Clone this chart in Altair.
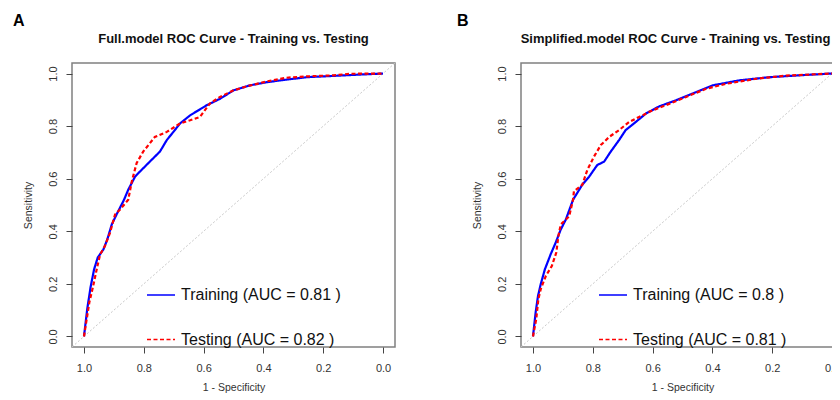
import altair as alt
import pandas as pd

FONT = "Liberation Sans"

# ---------------- data ----------------
X_TICKS = [1.0, 0.8, 0.6, 0.4, 0.2, 0.0]
Y_TICKS = [0.0, 0.2, 0.4, 0.6, 0.8, 1.0]

A_TITLE = "Full.model ROC Curve - Training vs. Testing"
A_TRAIN_LABEL = "Training (AUC = 0.81 )"
A_TEST_LABEL = "Testing (AUC = 0.82 )"
A_train_spec = [1.0, 0.989, 0.978, 0.966, 0.954, 0.935, 0.922, 0.907, 0.891, 0.866, 0.852, 0.829,
                0.813, 0.785, 0.746, 0.723, 0.696, 0.679, 0.645, 0.59, 0.545, 0.50, 0.445, 0.389,
                0.322, 0.255, 0.166, 0.077, 0.0]
A_train_sens = [0.0, 0.105, 0.187, 0.256, 0.30, 0.331, 0.369, 0.426, 0.464, 0.52, 0.558, 0.608,
                0.627, 0.659, 0.703, 0.747, 0.785, 0.81, 0.841, 0.879, 0.904, 0.936, 0.955, 0.967,
                0.977, 0.986, 0.991, 0.996, 1.0]
A_test_spec = [1.0, 0.982, 0.969, 0.955, 0.946, 0.93, 0.913, 0.896, 0.88, 0.852, 0.84, 0.824, 0.802,
               0.763, 0.723, 0.679, 0.645, 0.612, 0.579, 0.545, 0.50, 0.456, 0.389, 0.322, 0.255,
               0.166, 0.11, 0.0]
A_test_sens = [0.0, 0.13, 0.193, 0.268, 0.312, 0.344, 0.394, 0.464, 0.482, 0.52, 0.59, 0.659, 0.703,
               0.759, 0.778, 0.81, 0.822, 0.835, 0.886, 0.911, 0.936, 0.951, 0.970, 0.984, 0.989,
               0.993, 0.999, 1.0]

B_TITLE = "Simplified.model ROC Curve - Training vs. Testing"
B_TRAIN_LABEL = "Training (AUC = 0.8 )"
B_TEST_LABEL = "Testing (AUC = 0.81 )"
B_train_spec = [1.0, 0.991, 0.983, 0.974, 0.96, 0.941, 0.924, 0.907, 0.89, 0.866, 0.835, 0.812,
                0.785, 0.762, 0.74, 0.712, 0.69, 0.656, 0.622, 0.578, 0.522, 0.455, 0.399, 0.31,
                0.209, 0.098, 0.0]
B_train_sens = [0.0, 0.092, 0.155, 0.199, 0.256, 0.312, 0.357, 0.407, 0.445, 0.52, 0.577, 0.608,
                0.652, 0.665, 0.703, 0.747, 0.785, 0.816, 0.848, 0.875, 0.898, 0.929, 0.955, 0.974,
                0.986, 0.994, 1.0]
B_test_spec = [1.0, 0.989, 0.982, 0.974, 0.957, 0.937, 0.922, 0.915, 0.907, 0.879, 0.866, 0.863,
               0.835, 0.818, 0.796, 0.773, 0.745, 0.712, 0.678, 0.645, 0.60, 0.555, 0.488, 0.421,
               0.354, 0.254, 0.153, 0.0]
B_test_sens = [0.0, 0.067, 0.142, 0.18, 0.23, 0.268, 0.319, 0.382, 0.426, 0.457, 0.52, 0.552,
               0.577, 0.634, 0.684, 0.728, 0.759, 0.785, 0.816, 0.835, 0.86, 0.88, 0.911, 0.942,
               0.961, 0.98, 0.992, 1.0]

PLOT_W, PLOT_H = 323, 284


def panel(letter, letter_x, title, title_dx, tr_spec, tr_sens, te_spec, te_sens,
          tr_label, te_label, legend_x):
    rows = []
    for i, (s, v) in enumerate(zip(tr_spec, tr_sens)):
        rows.append({"spec": s, "sens": v, "series": tr_label, "idx": i})
    for i, (s, v) in enumerate(zip(te_spec, te_sens)):
        rows.append({"spec": s, "sens": v, "series": te_label, "idx": i})
    df = pd.DataFrame(rows)

    xs = alt.Scale(domain=[-0.04, 1.04], reverse=True, nice=False, zero=False)
    ys = alt.Scale(domain=[-0.04, 1.04], nice=False, zero=False)
    xaxis = alt.Axis(values=X_TICKS, format=".1f", title="1 - Specificity",
                     minExtent=26, maxExtent=26, titlePadding=9)
    yaxis = alt.Axis(values=Y_TICKS, format=".1f", title="Sensitivity",
                     labelAngle=270, labelAlign="center", labelBaseline="middle",
                     labelPadding=12.5, minExtent=25, maxExtent=25, titlePadding=14)

    diag_df = pd.DataFrame({"spec": [1.04, -0.04], "sens": [-0.04, 1.04]})
    diag = alt.Chart(diag_df).mark_line(
        color="#c8c8c8", strokeDash=[2, 2], strokeWidth=1, clip=True
    ).encode(
        x=alt.X("spec:Q", scale=xs, axis=xaxis),
        y=alt.Y("sens:Q", scale=ys, axis=yaxis),
    )

    legend = alt.Legend(
        title=None, orient="none", legendX=legend_x, legendY=217,
        symbolType="stroke", symbolSize=784, symbolStrokeWidth=1.5,
        labelFontSize=16, labelFont=FONT, labelColor="#111",
        rowPadding=21.6, labelOffset=5, padding=0, labelLimit=0,
    )
    lines = alt.Chart(df).mark_line(strokeWidth=2.2).encode(
        x=alt.X("spec:Q", scale=xs, axis=xaxis),
        y=alt.Y("sens:Q", scale=ys, axis=yaxis),
        color=alt.Color("series:N", sort=[tr_label, te_label],
                        scale=alt.Scale(domain=[tr_label, te_label], range=["#0000ff", "#ff0000"]),
                        legend=legend),
        strokeDash=alt.StrokeDash("series:N", sort=[tr_label, te_label],
                                  scale=alt.Scale(domain=[tr_label, te_label], range=[[1, 0], [4, 2.5]]),
                                  legend=legend),
        order="idx:Q",
    )

    letter_chart = alt.Chart(pd.DataFrame({"t": [letter]})).mark_text(
        align="left", baseline="alphabetic", fontSize=16, fontWeight="bold", font=FONT, color="#000"
    ).encode(text="t:N", x=alt.value(letter_x), y=alt.value(-37))

    title_chart = alt.Chart(pd.DataFrame({"t": [title]})).mark_text(
        align="center", baseline="alphabetic", fontSize=13, fontWeight="bold", font=FONT, color="#111"
    ).encode(text="t:N", x=alt.value(PLOT_W / 2 + title_dx), y=alt.value(-20.5))

    return alt.layer(diag, lines, letter_chart, title_chart).resolve_scale(
        color="independent", strokeDash="independent"
    ).properties(width=PLOT_W, height=PLOT_H)


pA = panel("A", -59, A_TITLE, 0, A_train_spec, A_train_sens, A_test_spec, A_test_sens,
           A_TRAIN_LABEL, A_TEST_LABEL, 74)
pB = panel("B", -64, B_TITLE, -7, B_train_spec, B_train_sens, B_test_spec, B_test_sens,
           B_TRAIN_LABEL, B_TEST_LABEL, 77)

chart = alt.hconcat(pA, pB, spacing=60).resolve_scale(
    color="independent", strokeDash="independent"
).properties(
    autosize=alt.AutoSizeParams(type="none"),
    padding={"left": 64, "top": 55, "right": 760, "bottom": 329},
).configure_view(
    stroke="#808080", strokeWidth=1.5
).configure_axis(
    domain=False, grid=False, tickSize=6, tickColor="#444", tickWidth=1,
    labelFont=FONT, labelFontSize=11, labelColor="#333", labelPadding=9,
    titleFont=FONT, titleFontSize=10.5, titleFontWeight="normal", titleColor="#333",
)

chart.save("out.html", embed_options={"renderer": "svg", "actions": False})
